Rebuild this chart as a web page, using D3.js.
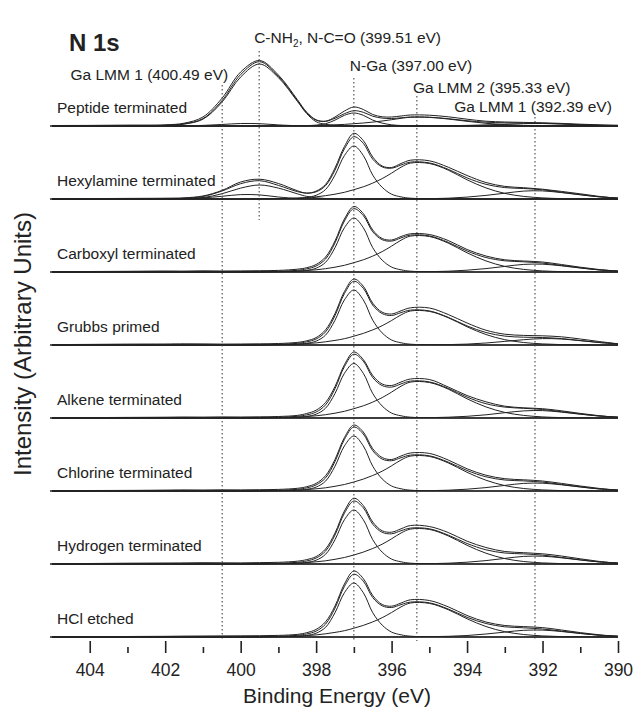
<!DOCTYPE html>
<html>
<head>
<meta charset="utf-8">
<style>
  body { margin: 0; background-color: white; }
  text { font-family: "Liberation Sans", Arial, sans-serif; fill: #222; }
  .frame { fill: none; stroke: #222; stroke-width: 2px; }
  .divider { stroke: #222; stroke-width: 1.6px; }
  .trace { fill: none; stroke: #222; stroke-width: 1px; }
  .guide { stroke: #333; stroke-width: 1px; stroke-dasharray: 1.5,2.5; }
</style>
</head>
<body>
<svg width="633" height="708"></svg>
<script src="https://d3js.org/d3.v7.min.js"></script>
<script>

// binding energy grid (eV), denser around the N-Ga peak
var energy = [405, 404, 403, 402, 401.5, 401, 400.5, 400, 399.5, 399, 398.5, 398.25, 398, 397.75,
  397.5, 397.25, 397, 396.75, 396.5, 396.25, 396, 395.75, 395.5, 395, 394.5, 394, 393.5, 393,
  392.5, 392, 391.5, 391, 390.5, 390];

var panelNames = ["Peptide terminated", "Hexylamine terminated", "Carboxyl terminated", "Grubbs primed",
  "Alkene terminated", "Chlorine terminated", "Hydrogen terminated", "HCl etched"];

var majorTicks = [404, 402, 400, 398, 396, 394, 392, 390];
var minorTicks = [403, 401, 399, 397, 395, 393, 391];

// measured spectra (a.u.), one row per panel
var rawCounts = [
  [0.5,0.6,0.9,1.2,2.8,9,27.5,54,65.5,51,26.5,13.8,6.2,4.8,9,15,19,16.5,11.5,9.2,9,10,11,10.8,9.2,6.8,4.8,4,3.6,3.2,2.6,1.8,1.2,0.8],
  [0.3,0.4,0.6,0.8,1.2,3,8.5,17,19.8,15.5,8.3,5.8,7.9,14.6,31,52.5,65.7,58.5,42,33,31.5,35.5,38.8,38.2,31.8,23.5,16.5,12.6,11.3,9.8,7.6,5.2,2.6,0.6],
  [0.3,0.5,0.7,1,0.9,1.2,1,1.1,1.3,1.6,2.8,4.3,7.5,15,31,53,65.5,58.5,42,33.5,32,35.5,38.2,37.5,31.5,22.5,16,12.2,11,10,7.5,4.8,2.5,0.8],
  [0.4,0.6,0.9,1,1.2,1.1,0.9,1,1.2,1.5,2.6,4.2,7.4,15.2,31.5,53.5,66,58.8,41.8,32.8,31,34.2,37.2,37,30.5,22,14.8,10.8,9.6,9.2,8.2,6,3.5,1.2],
  [0.3,0.4,0.6,0.8,1,0.9,1.1,1,1.2,1.5,2.6,4.5,7.8,15.5,31.5,53.2,66,58.5,42.5,34,32.5,36,39,38.5,31,22.5,16.2,11.8,10.2,9.3,7.2,4.6,2.3,0.6],
  [0.3,0.5,0.6,0.9,1.1,1,1.2,1.1,1.3,1.6,2.7,4.3,7.6,15.3,31.6,53.5,66,59,42.3,33.5,31.5,35,38,37.6,31,22.2,15.8,12.3,11.2,10,7.6,5,2.6,0.8],
  [0.4,0.5,0.8,1,1.1,1.3,1.2,1.1,1.4,1.7,2.8,4.4,7.4,15,31,53,65.8,58.5,42,33.2,31.8,35.2,38.5,37.5,31.5,22.8,16.5,12.5,11.3,10.2,8,5.2,2.6,0.7],
  [0.2,0.3,0.5,0.7,0.9,1,1.1,1.2,1.3,1.6,2.6,4.3,7.6,15.2,31,53,66,58.5,41.5,32.5,30.8,34,37.2,36.5,30.2,21.5,15,11.5,10.4,9.4,7,4.4,2.2,0.6]
];

// fitted components
var fitCNH = [
  [0,0,0,0.6,1.9,6.8,23.6,49,62,48.4,24.8,12.4,4.3,1.6,0.6,0,0,0,0,0,0,0,0,0,0,0,0,0,0,0,0,0,0,0],
  [0,0,0,0,0.3,1.4,5.2,10.9,14,10.9,5.2,2.6,1.2,0.5,0.2,0,0,0,0,0,0,0,0,0,0,0,0,0,0,0,0,0,0,0],
  null, null, null, null, null, null
];
var fitLMM400 = [
  [0,0,0,0.1,0.2,0.6,1.5,2.5,2.3,1.1,0.3,0.1,0.1,0,0,0,0,0,0,0,0,0,0,0,0,0,0,0,0,0,0,0,0,0],
  [0,0,0,0.1,0.4,1.1,2.7,4.4,4.1,2,0.5,0.2,0.1,0,0,0,0,0,0,0,0,0,0,0,0,0,0,0,0,0,0,0,0,0],
  null, null, null, null, null, null
];
var fitNGa = [
  [0,0,0,0,0,0,0,0,0,0.1,0.2,0.4,0.9,2.3,5.9,10.7,13,10.7,5.9,2.9,1.2,0.5,0.2,0.1,0,0,0,0,0,0,0,0,0,0],
  [0,0,0,0,0,0,0,0,0,0.3,0.8,1.6,3.7,9.5,23.9,43.5,53,43.5,23.9,11.7,4.8,2.1,0.8,0.3,0,0,0,0,0,0,0,0,0,0],
  [0,0,0,0,0,0,0,0,0,0.3,0.8,1.6,3.8,9.7,24.3,44.3,54,44.3,24.3,11.9,4.9,2.2,0.8,0.3,0,0,0,0,0,0,0,0,0,0],
  [0,0,0,0,0,0,0,0,0,0.3,0.8,1.7,3.9,9.9,24.8,45.1,55,45.1,24.8,12.1,5,2.2,0.8,0.3,0,0,0,0,0,0,0,0,0,0],
  [0,0,0,0,0,0,0,0,0,0.3,0.8,1.6,3.8,9.8,24.5,44.7,54.5,44.7,24.5,12,4.9,2.2,0.8,0.3,0,0,0,0,0,0,0,0,0,0],
  [0,0,0,0,0,0,0,0,0,0.3,0.8,1.7,3.9,9.9,24.8,45.1,55,45.1,24.8,12.1,5,2.2,0.8,0.3,0,0,0,0,0,0,0,0,0,0],
  [0,0,0,0,0,0,0,0,0,0.3,0.8,1.6,3.8,9.7,24.3,44.3,54,44.3,24.3,11.9,4.9,2.2,0.8,0.3,0,0,0,0,0,0,0,0,0,0],
  [0,0,0,0,0,0,0,0,0,0.3,0.8,1.6,3.8,9.7,24.3,44.3,54,44.3,24.3,11.9,4.9,2.2,0.8,0.3,0,0,0,0,0,0,0,0,0,0]
];
var fitLMM2 = [
  [0,0,0,0,0,0,0,0,0,0.1,0.2,0.4,0.5,0.8,1.2,1.6,2.3,3,3.9,5,6.3,7.7,8.7,8.6,7,4.7,2.7,1.4,0.6,0.3,0.1,0,0,0],
  [0,0,0,0,0,0,0,0,0.2,0.4,0.9,1.5,2.2,3.3,4.8,6.7,9.3,12.2,15.9,20.4,25.9,31.8,35.9,35.5,28.9,19.2,11.1,5.6,2.6,1.1,0.4,0.2,0,0],
  [0,0,0,0,0,0,0,0,0.2,0.4,0.9,1.5,2.2,3.3,4.8,6.7,9.3,12.2,15.9,20.4,25.9,31.8,35.9,35.5,28.9,19.2,11.1,5.6,2.6,1.1,0.4,0.2,0,0],
  [0,0,0,0,0,0,0,0,0.2,0.4,0.9,1.4,2.1,3.2,4.6,6.3,8.8,11.6,15.1,19.3,24.5,30.1,34,33.6,27.3,18.2,10.5,5.3,2.5,1.1,0.4,0.2,0,0],
  [0,0,0,0,0,0,0,0,0.2,0.4,0.9,1.5,2.2,3.3,4.8,6.7,9.3,12.2,15.9,20.4,25.9,31.8,35.9,35.5,28.9,19.2,11.1,5.6,2.6,1.1,0.4,0.2,0,0],
  [0,0,0,0,0,0,0,0,0.2,0.4,0.9,1.4,2.2,3.2,4.7,6.5,9,11.9,15.5,19.8,25.2,31,34.9,34.6,28.1,18.7,10.8,5.4,2.5,1.1,0.4,0.2,0,0],
  [0,0,0,0,0,0,0,0,0.2,0.4,0.9,1.4,2.2,3.2,4.7,6.5,9,11.9,15.5,19.8,25.2,31,34.9,34.6,28.1,18.7,10.8,5.4,2.5,1.1,0.4,0.2,0,0],
  [0,0,0,0,0,0,0,0,0.2,0.4,0.9,1.4,2.1,3.2,4.6,6.3,8.8,11.6,15.1,19.3,24.5,30.1,34,33.6,27.3,18.2,10.5,5.3,2.5,1.1,0.4,0.2,0,0]
];
var fitLMM1 = [
  [0,0,0,0,0,0,0,0,0,0,0,0,0,0,0,0,0,0,0,0,0,0,0.1,0.1,0.3,0.6,1.1,1.8,2.4,2.5,2,1.3,0.7,0.3],
  [0,0,0,0,0,0,0,0,0,0,0,0,0,0,0,0,0,0,0,0,0.1,0.1,0.2,0.3,0.8,1.9,3.6,5.8,7.9,8.1,6.4,4.2,2.2,1],
  [0,0,0,0,0,0,0,0,0,0,0,0,0,0,0,0,0,0,0,0,0.1,0.1,0.2,0.3,0.8,1.8,3.4,5.6,7.6,7.8,6.2,4,2.1,1],
  [0,0,0,0,0,0,0,0,0,0,0,0,0,0,0,0,0,0,0,0,0,0.1,0.1,0.2,0.4,0.9,2,3.6,5.3,6.4,6,4.3,2.5,1.2],
  [0,0,0,0,0,0,0,0,0,0,0,0,0,0,0,0,0,0,0,0,0.1,0.1,0.2,0.3,0.8,1.7,3.2,5.3,7.1,7.4,5.9,3.8,2,0.9],
  [0,0,0,0,0,0,0,0,0,0,0,0,0,0,0,0,0,0,0,0,0.1,0.1,0.2,0.3,0.8,1.8,3.4,5.6,7.6,7.8,6.2,4,2.1,1],
  [0,0,0,0,0,0,0,0,0,0,0,0,0,0,0,0,0,0,0,0,0.1,0.1,0.2,0.3,0.8,1.8,3.4,5.6,7.6,7.8,6.2,4,2.1,1],
  [0,0,0,0,0,0,0,0,0,0,0,0,0,0,0,0,0,0,0,0,0.1,0.1,0.1,0.3,0.7,1.5,3,4.9,6.7,6.9,5.5,3.5,1.8,0.8]
];

// reference positions (eV) drawn as dotted guides
var guideEnergy = [400.49, 399.51, 397.00, 395.33, 392.2];
var guideLabels = ["Ga LMM 1 (400.49 eV)", "C-NH2, N-C=O (399.51 eV)", "N-Ga (397.00 eV)",
  "Ga LMM 2 (395.33 eV)", "Ga LMM 1 (392.39 eV)"];


var svg = d3.select("svg"),
    left = 52, right = 618, top = 15, axisY = 653,
    firstBottom = 126, panelH = 73;

var x = d3.scaleLinear().domain([405, 390]).range([left, right]);

var g = svg.append("g");

panelNames.forEach(function(name, i) {
  var bottom = firstBottom + panelH * i;
  var y = d3.scaleLinear().domain([0, 73]).range([bottom, bottom - panelH]);

  var line = d3.line()
      .x(function(d, j) { return x(energy[j]); })
      .y(function(d) { return Math.min(y(d), bottom); })
      .curve(d3.curveCatmullRom.alpha(0.5));

  g.append("line")
      .attr("class", "divider")
      .attr("x1", left - 2).attr("x2", right)
      .attr("y1", bottom).attr("y2", bottom);

  var comps = [fitCNH[i], fitLMM400[i], fitNGa[i], fitLMM2[i], fitLMM1[i]]
      .filter(function(c) { return c; });

  // envelope = sum of the fitted components
  var envelope = energy.map(function(e, j) {
    return d3.sum(comps, function(c) { return c[j]; });
  });

  comps.forEach(function(c) {
    g.append("path").attr("class", "trace").attr("d", line(c));
  });
  g.append("path").attr("class", "trace").attr("d", line(envelope));
  g.append("path").attr("class", "trace").attr("d", line(rawCounts[i]));

  g.append("text")
      .attr("x", left + 5)
      .attr("y", bottom - 13)
      .style("font-size", "15.5px")
      .text(name);
});

// dotted guides
var guideTop = [85, 51, 78, 96, 117];
var guideBottom = [641, 220, 641, 641, 641];
guideEnergy.forEach(function(e, k) {
  svg.append("line")
      .attr("class", "guide")
      .attr("x1", x(e)).attr("x2", x(e))
      .attr("y1", guideTop[k]).attr("y2", guideBottom[k]);
});

function label(txt, px, py, anchor) {
  return svg.append("text")
      .attr("x", px).attr("y", py)
      .attr("text-anchor", anchor)
      .style("font-size", "15.5px")
      .text(txt);
}

label(guideLabels[0], x(guideEnergy[0]) + 6, 80, "end");
var cn = svg.append("text")
    .attr("x", x(guideEnergy[1]) - 5).attr("y", 43)
    .style("font-size", "15.5px");
cn.append("tspan").text("C-NH");
cn.append("tspan").attr("dy", 4).style("font-size", "10px").text("2");
cn.append("tspan").attr("dy", -4).text(", N-C=O (399.51 eV)");
label(guideLabels[2], x(guideEnergy[2]) - 4, 71, "start");
label(guideLabels[3], x(guideEnergy[3]) - 4, 93, "start");
label(guideLabels[4], x(guideEnergy[4]) - 2, 112, "middle");

svg.append("text")
    .attr("x", 69).attr("y", 51)
    .style("font-size", "24px")
    .style("font-weight", "bold")
    .text("N 1s");

// axis
var axisMajor = d3.axisBottom(x)
    .tickValues(majorTicks)
    .tickSize(-12)
    .tickPadding(10.5)
    .tickFormat(d3.format("d"));

var axisMinor = d3.axisBottom(x)
    .tickValues(minorTicks)
    .tickSize(-6)
    .tickFormat("");

var ga = svg.append("g")
    .attr("transform", "translate(0," + axisY + ")")
    .style("color", "#222")
    .call(axisMajor);
ga.select(".domain").remove();
ga.selectAll("line").style("stroke-width", "1.6px");
ga.selectAll("text").style("font-size", "17.5px");

var gm = svg.append("g")
    .attr("transform", "translate(0," + axisY + ")")
    .style("color", "#222")
    .call(axisMinor);
gm.select(".domain").remove();
gm.selectAll("line").style("stroke-width", "1.6px");

svg.append("rect")
    .attr("class", "frame")
    .attr("x", left).attr("y", top)
    .attr("width", right - left).attr("height", axisY - top);

svg.append("text")
    .attr("x", (left + right) / 2 + 2)
    .attr("y", 703)
    .attr("text-anchor", "middle")
    .style("font-size", "21px")
    .text("Binding Energy (eV)");

svg.append("text")
    .attr("transform", "translate(31,344) rotate(-90)")
    .attr("text-anchor", "middle")
    .style("font-size", "24px")
    .text("Intensity (Arbitrary Units)");

</script>
</body>
</html>
